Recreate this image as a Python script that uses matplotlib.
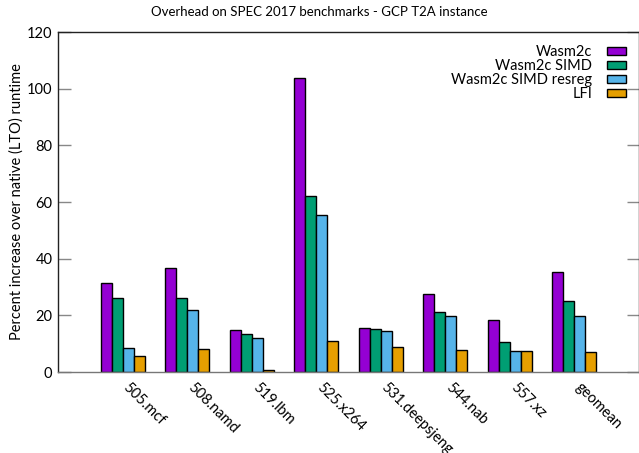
import matplotlib
matplotlib.use("Agg")
import matplotlib.pyplot as plt
import numpy as np

plt.rcParams["font.family"] = ["Lato", "DejaVu Sans"]

# ===== DATA =====
benchmarks = ["505.mcf", "508.namd", "519.lbm", "525.x264", "531.deepsjeng",
              "544.nab", "557.xz", "geomean"]
wasm2c = [31.5, 36.8, 14.7, 103.9, 15.5, 27.5, 18.4, 35.2]
wasm2c_simd = [26.0, 26.2, 13.3, 62.1, 15.2, 21.1, 10.6, 25.0]
wasm2c_simd_resreg = [8.3, 21.8, 11.9, 55.4, 14.4, 19.8, 7.3, 19.8]
lfi = [5.7, 8.2, 0.6, 10.8, 8.8, 7.8, 7.5, 7.1]

series = [
    ("Wasm2c", wasm2c, "#9400D3"),
    ("Wasm2c SIMD", wasm2c_simd, "#009E73"),
    ("Wasm2c SIMD resreg", wasm2c_simd_resreg, "#56B4E9"),
    ("LFI", lfi, "#E69F00"),
]

fig = plt.figure(figsize=(6.39, 4.53), dpi=100)
ax = fig.add_axes([58 / 639, 1 - 372 / 453, 581 / 639, 340 / 453])

x = np.arange(len(benchmarks))
bw = 0.17
for i, (label, vals, color) in enumerate(series):
    ax.bar(x + (i - 1.5) * bw, vals, width=bw, color=color,
           edgecolor="black", linewidth=1.0, label=label)

ax.set_xlim(-1, 8)
ax.set_ylim(0, 120)
ax.set_yticks(range(0, 121, 20))
ax.tick_params(axis="y", direction="in", length=9, width=1, color="#888888",
               right=True, labelsize=10.5, pad=4)
ax.tick_params(axis="x", length=0, pad=6)
ax.set_xticks(x + 0.12)
ax.set_xticklabels(benchmarks, rotation=-45, ha="left", va="top",
                   rotation_mode="anchor", fontsize=10.5)
for s in ax.spines.values():
    s.set_color("#222222")
    s.set_linewidth(1.0)
ax.spines["bottom"].set_color("#777777")

ax.set_ylabel("Percent increase over native (LTO) runtime", fontsize=10.5,
              labelpad=2)
fig.text(0.5, 1 - 12 / 453, "Overhead on SPEC 2017 benchmarks - GCP T2A instance",
         ha="center", va="center", fontsize=9.5)

ax.legend(loc="upper right", frameon=False, markerfirst=False,
          fontsize=10.5, handlelength=1.3, handleheight=0.5,
          labelspacing=0.0, handletextpad=1.0, borderaxespad=0.5,
          bbox_to_anchor=(1.0, 1.0))
for t in ax.get_legend().get_texts():
    t.set_ha("right")

fig.savefig("out.png", dpi=100)
